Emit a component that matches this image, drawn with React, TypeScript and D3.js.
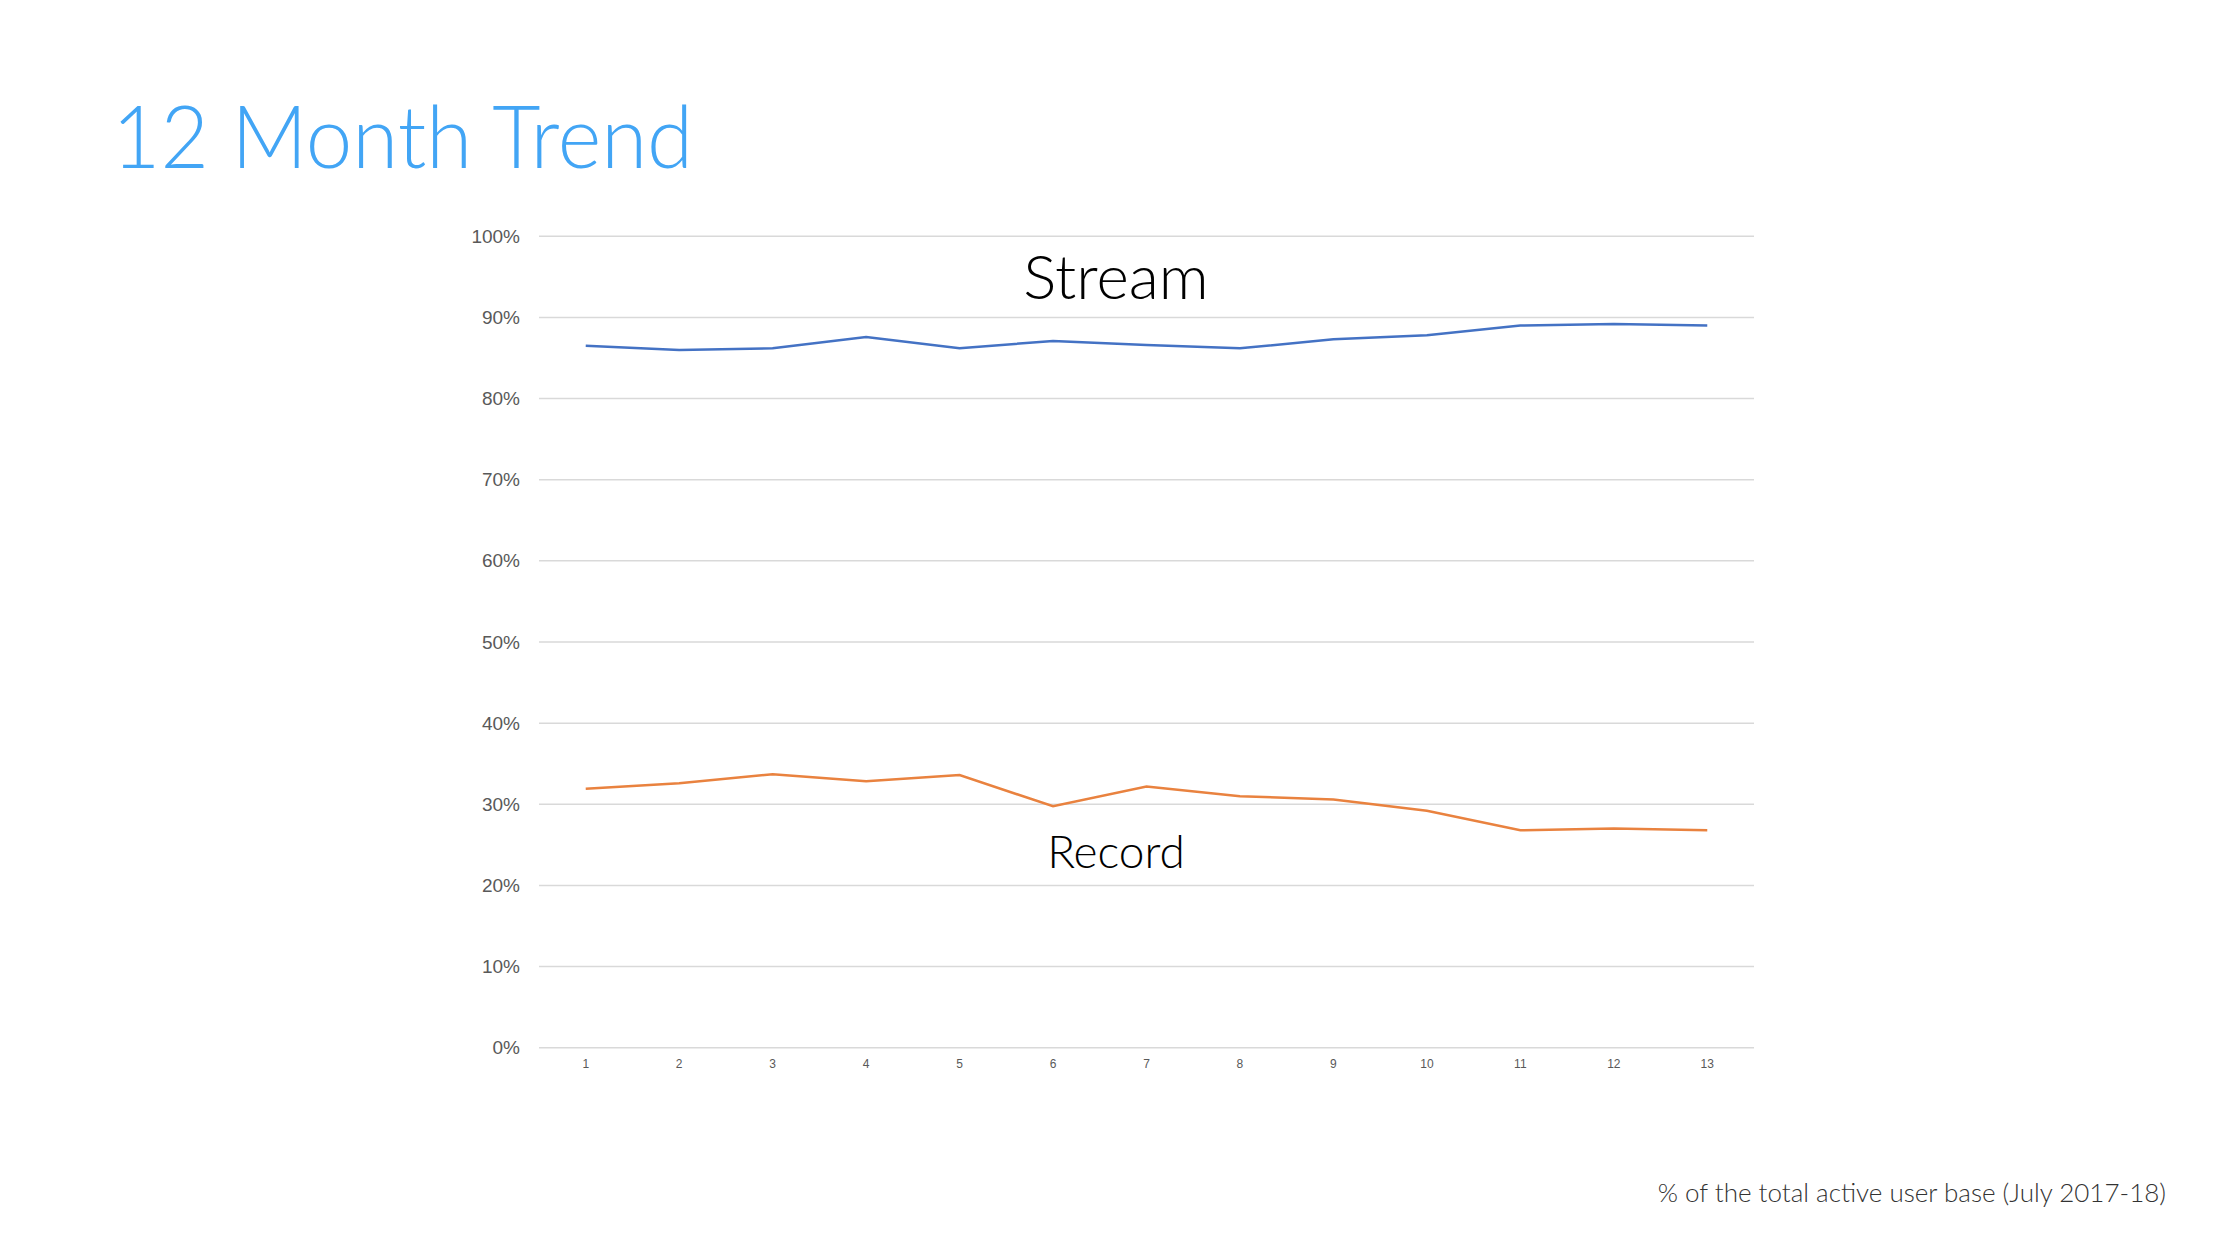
import React from "react";
import * as d3 from "d3";

const months = ["1","2","3","4","5","6","7","8","9","10","11","12","13"];
const streamValues = [86.5, 86.0, 86.2, 87.6, 86.2, 87.1, 86.6, 86.2, 87.3, 87.8, 89.0, 89.2, 89.0];
const recordValues = [31.9, 32.6, 33.7, 32.85, 33.6, 29.75, 32.2, 31.0, 30.6, 29.2, 26.8, 27.0, 26.8];
const yTicks = [0, 10, 20, 30, 40, 50, 60, 70, 80, 90, 100];

const W = 2232, H = 1258;
const left = 539, right = 1754, top = 236.3, bottom = 1047.7;

export default function App() {
  const x = d3.scalePoint<string>().domain(months).range([left, right]).padding(0.5);
  const y = d3.scaleLinear().domain([0, 100]).range([bottom, top]);
  const line = d3.line<number>().x((_, i) => x(months[i]) as number).y(d => y(d));

  return (
    <svg width={W} height={H} style={{ position: "absolute", left: 0, top: 0, background: "#fff" }}>
      <text x={112} y={168} fontFamily="Lato, 'Open Sans', sans-serif" fontWeight={300} fontSize={87} fill="#42A5F5" textLength={581} lengthAdjust="spacingAndGlyphs">12 Month Trend</text>
      {yTicks.map(t => (
        <g key={t}>
          <line x1={left} x2={right} y1={y(t)} y2={y(t)} stroke="#d9d9d9" strokeWidth={1.5} />
          <text x={520} y={y(t) + 6.5} textAnchor="end" fontFamily="'Liberation Sans', Arial, sans-serif" fontSize={19} fill="#595959">{t}%</text>
        </g>
      ))}
      {months.map(m => (
        <text key={m} x={x(m)} y={1068} textAnchor="middle" fontFamily="'Liberation Sans', Arial, sans-serif" fontSize={12} fill="#595959">{m}</text>
      ))}
      <path d={line(streamValues) || ""} fill="none" stroke="#4472C4" strokeWidth={2.5} />
      <path d={line(recordValues) || ""} fill="none" stroke="#E9823F" strokeWidth={2.5} />
      <text x={1116} y={299} textAnchor="middle" fontFamily="Lato, 'Open Sans', sans-serif" fontWeight={300} fontSize={62} fill="#000">Stream</text>
      <text x={1116} y={868} textAnchor="middle" fontFamily="Lato, 'Open Sans', sans-serif" fontWeight={300} fontSize={46} fill="#000">Record</text>
      <text x={2166} y={1202} textAnchor="end" fontFamily="Lato, 'Open Sans', sans-serif" fontWeight={300} fontSize={26} fill="#333">% of the total active user base (July 2017-18)</text>
    </svg>
  );
}
